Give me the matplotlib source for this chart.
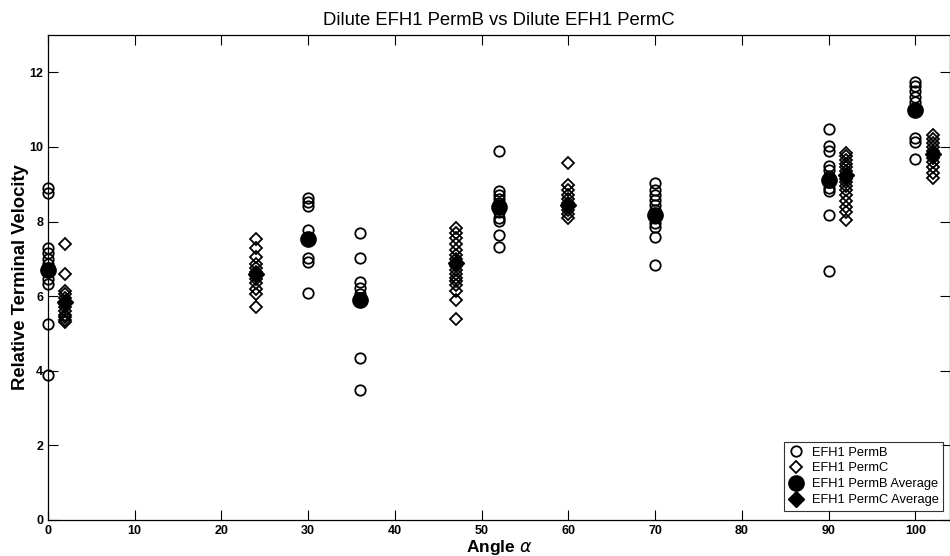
import matplotlib
matplotlib.use("Agg")
import matplotlib.pyplot as plt

plt.rcParams["font.family"] = ["Liberation Sans", "DejaVu Sans"]

# ---- data ----
permb_x = [0, 30, 36, 52, 70, 90, 100]
permb_vals = [
    [8.9, 8.77, 7.28, 7.15, 7.0, 6.85, 6.45, 6.32, 5.25, 3.9],
    [8.62, 8.52, 8.42, 7.78, 7.55, 7.02, 6.92, 6.08],
    [7.7, 7.02, 6.38, 6.22, 6.05, 5.95, 4.33, 3.48],
    [9.88, 8.83, 8.7, 8.6, 8.5, 8.4, 8.25, 8.1, 8.02, 7.65, 7.32],
    [9.03, 8.85, 8.7, 8.58, 8.45, 8.3, 8.1, 7.95, 7.85, 7.58, 6.84],
    [10.48, 10.02, 9.9, 9.5, 9.38, 9.22, 9.05, 8.9, 8.82, 8.18, 6.68],
    [11.74, 11.62, 11.5, 11.35, 11.2, 10.25, 10.12, 9.68],
]
permb_avg = [6.7, 7.53, 5.9, 8.38, 8.17, 9.12, 11.0]

permc_x = [2, 24, 47, 60, 92, 102]
permc_vals = [
    [7.4, 6.6, 6.15, 6.05, 5.95, 5.8, 5.7, 5.6, 5.5, 5.45, 5.35, 5.3],
    [7.52, 7.3, 7.05, 6.85, 6.75, 6.65, 6.55, 6.45, 6.35, 6.2, 6.05, 5.7],
    [7.82, 7.7, 7.55, 7.4, 7.25, 7.1, 7.0, 6.9, 6.8, 6.7, 6.6, 6.5, 6.4,
     6.3, 6.15, 5.9, 5.38],
    [9.57, 8.98, 8.85, 8.7, 8.6, 8.5, 8.4, 8.3, 8.2, 8.1],
    [9.85, 9.75, 9.65, 9.55, 9.45, 9.35, 9.25, 9.15, 9.05, 8.95, 8.85,
     8.7, 8.55, 8.4, 8.25, 8.05],
    [10.32, 10.2, 10.1, 10.0, 9.9, 9.8, 9.7, 9.6, 9.45, 9.3, 9.18],
]
permc_avg = [5.85, 6.6, 6.9, 8.45, 9.25, 9.82]

xticks = list(range(0, 101, 10))
yticks = list(range(0, 13, 2))

fig = plt.figure(figsize=(9.5, 5.56), dpi=100)
ax = fig.add_axes([48 / 950, 1 - 520 / 556, 902 / 950, 485 / 556])

# raw points
bx = [x for x, vs in zip(permb_x, permb_vals) for _ in vs]
by = [v for vs in permb_vals for v in vs]
cx = [x for x, vs in zip(permc_x, permc_vals) for _ in vs]
cy = [v for vs in permc_vals for v in vs]

ax.plot(bx, by, "o", ls="none", ms=7.5, mfc="none", mec="black", mew=1.3,
        label="EFH1 PermB", clip_on=False)
ax.plot(cx, cy, "D", ls="none", ms=6, mfc="none", mec="black", mew=1.3,
        label="EFH1 PermC", clip_on=False)
ax.plot(permb_x, permb_avg, "o", ls="none", ms=11, mfc="black", mec="black",
        label="EFH1 PermB Average", clip_on=False)
ax.plot(permc_x, permc_avg, "D", ls="none", ms=8, mfc="black", mec="black",
        label="EFH1 PermC Average", clip_on=False)

ax.set_xlim(0, 104)
ax.set_ylim(0, 13)
ax.set_xticks(xticks)
ax.set_yticks(yticks)
ax.tick_params(direction="in", length=7, width=0.8, top=True, right=True,
               labelsize=9)
for lab in ax.get_xticklabels() + ax.get_yticklabels():
    lab.set_fontweight("bold")
for sp in ax.spines.values():
    sp.set_linewidth(0.9)

ax.set_title("Dilute EFH1 PermB vs Dilute EFH1 PermC", fontsize=13.3, pad=7)
ax.set_xlabel(r"Angle $\alpha$", fontsize=12.5, fontweight="bold", labelpad=1)
ax.set_ylabel("Relative Terminal Velocity", fontsize=13.3, fontweight="bold",
              labelpad=0)

leg = ax.legend(loc="upper left", bbox_to_anchor=(736 / 902, 78 / 485),
                fontsize=9.3, frameon=True, fancybox=False, edgecolor="black",
                borderpad=0.35, labelspacing=0.3, handletextpad=0.6,
                handlelength=1.2, borderaxespad=0)
leg.get_frame().set_linewidth(0.8)

fig.savefig("out.png", dpi=100)
